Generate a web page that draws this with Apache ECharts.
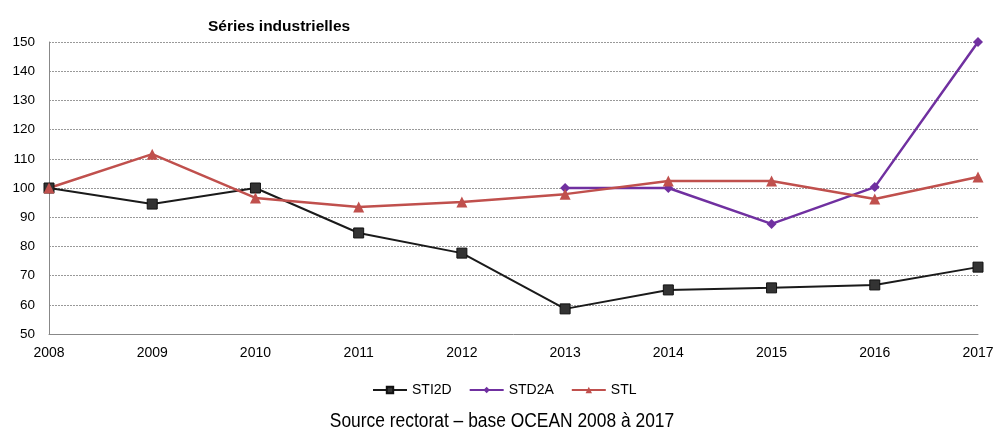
<!DOCTYPE html>
<html><head><meta charset="utf-8">
<script src="https://cdn.jsdelivr.net/npm/echarts@6/dist/echarts.min.js"></script>
<style>html,body{margin:0;padding:0;background:#fff}#c{width:995px;height:430px}</style>
</head><body><div id="c"></div>
<script>
const categories = ['2008','2009','2010','2011','2012','2013','2014','2015','2016','2017'];
const sti2d = [100, 94.5, 100, 84.6, 77.7, 58.6, 65.1, 65.8, 66.8, 72.9];
const std2a = [null, null, null, null, null, 100, 100, 87.7, 100.3, 150];
const stl = [100, 111.6, 96.6, 93.5, 95.2, 97.9, 102.4, 102.4, 96.2, 103.8];

const chart = echarts.init(document.getElementById('c'));
const font = 'Liberation Sans, Arial, sans-serif';
chart.setOption({
  animation: false,
  title: [{
    text: 'Séries industrielles', left: 203, top: 14,
    textStyle: {fontFamily: font, fontSize: 15.5, fontWeight: 'bold', color: '#000'}
  }],
  graphic: [{
    type: 'text', x: 502, y: 421, scaleX: 0.87, originX: 0, originY: 0,
    style: {
      text: 'Source rectorat – base OCEAN 2008 à 2017',
      font: '20px Liberation Sans, Arial, sans-serif', fill: '#000',
      align: 'center', verticalAlign: 'middle'
    }
  }],
  legend: {
    top: 378, left: 367, itemWidth: 34, itemHeight: 8, itemGap: 17,
    textStyle: {fontFamily: font, fontSize: 14, color: '#000'},
    data: ['STI2D','STD2A','STL']
  },
  grid: {left: 49, right: 17, top: 42, bottom: 96, outerBoundsMode: 'none'},
  xAxis: {
    type: 'category', data: categories, boundaryGap: false,
    axisLine: {lineStyle: {color: '#888', width: 1}},
    axisTick: {show: false},
    axisLabel: {fontFamily: font, fontSize: 14, color: '#000', margin: 12}
  },
  yAxis: {
    type: 'value', min: 50, max: 150, interval: 10,
    axisLine: {show: true, lineStyle: {color: '#888', width: 1}},
    axisTick: {show: false},
    axisLabel: {fontFamily: font, fontSize: 13.5, color: '#000', margin: 14},
    splitLine: {lineStyle: {color: '#999', type: [2, 1], width: 1}}
  },
  series: [{
    name: 'STI2D', type: 'line', data: sti2d,
    symbol: 'rect', symbolSize: 10,
    lineStyle: {color: '#1a1a1a', width: 2},
    itemStyle: {color: '#333', borderColor: '#111', borderWidth: 1}
  }, {
    name: 'STD2A', type: 'line', data: std2a,
    symbol: 'diamond', symbolSize: 10,
    lineStyle: {color: '#7030A0', width: 2.5},
    itemStyle: {color: '#7030A0'}
  }, {
    name: 'STL', type: 'line', data: stl,
    symbol: 'triangle', symbolSize: 11,
    lineStyle: {color: '#C0504D', width: 2.5},
    itemStyle: {color: '#C0504D'}
  }]
});
</script></body></html>
